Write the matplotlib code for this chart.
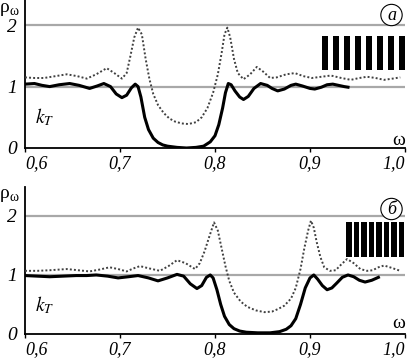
import numpy as np
import matplotlib
matplotlib.use('Agg')
import matplotlib.pyplot as plt
from matplotlib.patches import Rectangle

plt.rcParams['font.family'] = ['Liberation Serif', 'DejaVu Serif']
plt.rcParams['mathtext.fontset'] = 'stix'

# panel (а): solid k_T and dotted rho_w
w_a_solid = [0.600, 0.610, 0.618, 0.626, 0.636, 0.647, 0.657, 0.668, 0.676, 0.683,
             0.690, 0.696, 0.702, 0.707, 0.712, 0.716, 0.719, 0.722, 0.726, 0.730,
             0.735, 0.740, 0.745, 0.750, 0.760, 0.770, 0.780, 0.788, 0.795, 0.800,
             0.804, 0.808, 0.811, 0.814, 0.817, 0.821, 0.826, 0.830, 0.835, 0.841,
             0.848, 0.855, 0.860, 0.866, 0.873, 0.880, 0.885, 0.892, 0.900, 0.905,
             0.912, 0.918, 0.924, 0.930, 0.936, 0.940]
k_a = [1.04, 1.05, 1.02, 1.00, 1.03, 1.05, 1.02, 0.97, 1.01, 1.05,
       1.00, 0.88, 0.82, 0.86, 0.98, 1.04, 1.00, 0.83, 0.50, 0.30,
       0.16, 0.09, 0.05, 0.03, 0.01, 0.00, 0.01, 0.03, 0.10, 0.20,
       0.38, 0.65, 0.90, 1.05, 1.03, 0.93, 0.83, 0.79, 0.84, 0.97,
       1.05, 1.02, 0.97, 0.93, 0.96, 1.02, 1.04, 1.01, 0.97, 0.96,
       0.99, 1.03, 1.04, 1.02, 1.00, 0.99]

w_a_dot = [0.600, 0.610, 0.620, 0.632, 0.644, 0.655, 0.665, 0.675, 0.686, 0.694,
           0.702, 0.707, 0.711, 0.715, 0.719, 0.723, 0.727, 0.731, 0.735, 0.740,
           0.746, 0.752, 0.758, 0.765, 0.772, 0.780, 0.786, 0.792, 0.798, 0.803,
           0.807, 0.810, 0.813, 0.816, 0.820, 0.824, 0.830, 0.837, 0.844, 0.851,
           0.858, 0.865, 0.875, 0.884, 0.893, 0.902, 0.912, 0.922, 0.933, 0.943,
           0.952, 0.960, 0.969, 0.978, 0.987, 0.995]
rho_a = [1.15, 1.14, 1.14, 1.17, 1.20, 1.17, 1.13, 1.20, 1.30, 1.22,
         1.13, 1.22, 1.50, 1.80, 1.96, 1.85, 1.45, 1.12, 0.88, 0.70,
         0.57, 0.48, 0.43, 0.40, 0.39, 0.42, 0.50, 0.65, 0.90, 1.20,
         1.55, 1.85, 1.96, 1.80, 1.45, 1.22, 1.12, 1.20, 1.32, 1.24,
         1.14, 1.15, 1.20, 1.22, 1.17, 1.14, 1.16, 1.18, 1.14, 1.11,
         1.14, 1.16, 1.14, 1.11, 1.13, 1.15]

# panel (б)
w_b_solid = [0.600, 0.613, 0.626, 0.640, 0.654, 0.665, 0.675, 0.687, 0.698, 0.709,
             0.719, 0.730, 0.740, 0.750, 0.760, 0.767, 0.774, 0.781, 0.786, 0.791,
             0.795, 0.798, 0.802, 0.806, 0.810, 0.815, 0.820, 0.826, 0.833, 0.845,
             0.858, 0.868, 0.875, 0.880, 0.885, 0.890, 0.895, 0.900, 0.904, 0.908,
             0.913, 0.918, 0.923, 0.928, 0.934, 0.940, 0.946, 0.952, 0.958, 0.965,
             0.972]
k_b = [0.99, 0.98, 0.97, 0.98, 0.99, 0.99, 1.00, 0.98, 0.95, 0.97,
       0.99, 0.95, 0.90, 0.95, 1.01, 0.98, 0.85, 0.77, 0.82, 0.96,
       1.00, 0.95, 0.75, 0.50, 0.30, 0.16, 0.09, 0.05, 0.03, 0.02,
       0.02, 0.04, 0.08, 0.14, 0.26, 0.50, 0.78, 0.95, 1.00, 0.93,
       0.82, 0.75, 0.78, 0.86, 0.96, 1.00, 0.97, 0.91, 0.88, 0.91,
       0.96]

w_b_dot = [0.600, 0.613, 0.626, 0.644, 0.656, 0.668, 0.678, 0.689, 0.698, 0.707,
           0.714, 0.721, 0.731, 0.742, 0.751, 0.760, 0.769, 0.779, 0.784, 0.789,
           0.794, 0.799, 0.803, 0.807, 0.811, 0.815, 0.820, 0.827, 0.834, 0.843,
           0.852, 0.860, 0.866, 0.873, 0.880, 0.885, 0.890, 0.894, 0.898, 0.901,
           0.904, 0.907, 0.911, 0.915, 0.921, 0.927, 0.933, 0.939, 0.946, 0.953,
           0.960, 0.966, 0.972, 0.978, 0.986, 0.995]
rho_b = [1.07, 1.07, 1.08, 1.10, 1.08, 1.06, 1.09, 1.13, 1.10, 1.06,
         1.11, 1.15, 1.11, 1.07, 1.15, 1.25, 1.20, 1.10, 1.20, 1.40,
         1.65, 1.89, 1.75, 1.45, 1.15, 0.90, 0.70, 0.55, 0.46, 0.40,
         0.37, 0.38, 0.42, 0.48, 0.60, 0.78, 1.10, 1.45, 1.75, 1.92,
         1.80, 1.56, 1.30, 1.13, 1.07, 1.08, 1.18, 1.27, 1.20, 1.10,
         1.07, 1.08, 1.13, 1.16, 1.12, 1.07]

xticks = [0.6, 0.7, 0.8, 0.9, 1.0]
xticklabels = ['0,6', '0,7', '0,8', '0,9', '1,0']
yticks = [0, 1, 2]
yticklabels = ['0', '1', '2']

W, H = 408, 358
fig = plt.figure(figsize=(W / 100, H / 100), dpi=100)


def px(x, y):
    return x / W, 1 - y / H


def panel(rect, ymax, ws, ks, wd, rd, stripes):
    ax = fig.add_axes(rect)
    ax.set_xlim(0.6, 1.0)
    ax.set_ylim(0, ymax)
    for g in (1, 2):
        ax.axhline(g, color='#a8a8a8', lw=1.6, zorder=1)
    ax.plot(wd, rd, color='#404040', lw=1.4, ls=(0, (1, 1.1)), zorder=3)
    ax.plot(ws, ks, color='black', lw=2.2, zorder=4)
    for s in ('top', 'right'):
        ax.spines[s].set_visible(False)
    for s in ('left', 'bottom'):
        ax.spines[s].set_linewidth(1.3)
    ax.set_xticks(xticks)
    ax.set_xticklabels(xticklabels, fontsize=13, style='italic')
    ax.set_yticks(yticks)
    ax.set_yticklabels(yticklabels, fontsize=14, style='italic')
    ax.tick_params(axis='x', direction='out', length=3, width=1, pad=2)
    ax.tick_params(axis='y', length=0, pad=6)
    lbls = ax.get_xticklabels()
    lbls[0].set_ha('left')
    lbls[-1].set_ha('right')
    # stripe pattern inset (pixel geometry)
    x0, y0, bw, gap, n, h = stripes
    for i in range(n):
        xs = x0 + i * (bw + gap)
        fx, fy = px(xs, y0 + h)
        r = Rectangle((fx, fy), bw / W, h / H, transform=fig.transFigure,
                      facecolor='black', edgecolor='none', zorder=5)
        fig.patches.append(r)
    return ax


ax1 = panel([25 / W, 1 - 148 / H, 380 / W, 148 / H], 2.41,
            w_a_solid, k_a, w_a_dot, rho_a, (322, 36, 6, 5, 8, 34))
ax2 = panel([25 / W, 1 - 334 / H, 380 / W, 147 / H], 2.49,
            w_b_solid, k_b, w_b_dot, rho_b, (346, 222, 5.5, 2, 8, 35))

for yb, yo, yk, lt, yc in ((0, 145, 123, 'а', 15), (186, 328, 311, 'б', 209)):
    fig.text(*px(0, yb + 12), 'ρ', fontsize=14, ha='left', va='baseline')
    fig.text(*px(9, yb + 15), 'ω', fontsize=10, ha='left', va='baseline')
    fig.text(*px(399, yo), 'ω', fontsize=14, ha='center', va='baseline')
    fig.text(*px(35, yk), r'$k_T$', fontsize=14, ha='left', va='baseline')
    fig.text(*px(391.5, yc), lt, fontsize=13, style='italic', ha='center', va='center',
             bbox=dict(boxstyle='circle,pad=0.12', fc='white', ec='black', lw=0.8))

fig.savefig('out.png', dpi=100)
